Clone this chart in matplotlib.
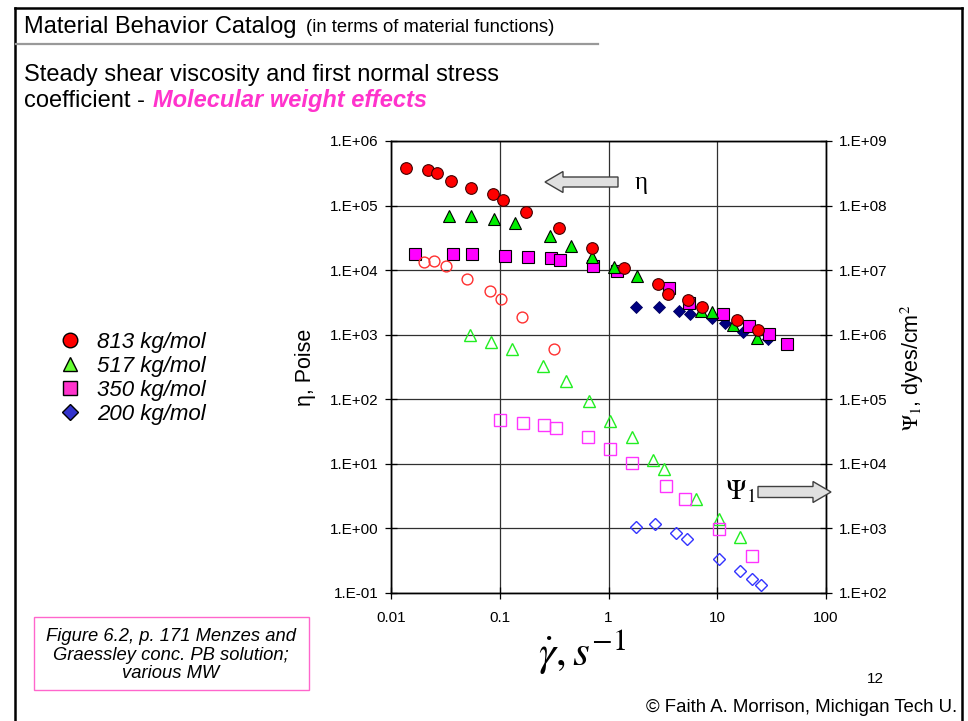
import numpy as np
import matplotlib.pyplot as plt
from matplotlib.lines import Line2D
from matplotlib.patches import Polygon, Rectangle
from matplotlib.ticker import FuncFormatter, NullLocator

plt.rcParams['font.family'] = ['Liberation Sans', 'DejaVu Sans']
plt.rcParams['mathtext.fontset'] = 'stix'

W, H = 968, 721

# ---- data ----
labels = ['813 kg/mol', '517 kg/mol', '350 kg/mol', '200 kg/mol']

# steady shear viscosity eta (Poise) vs shear rate (1/s) -- filled symbols
rate_eta_813 = [0.0137, 0.0218, 0.0267, 0.0354, 0.0544, 0.0873, 0.108, 0.174, 0.348,
                0.710, 1.40, 2.83, 3.55, 5.42, 7.19, 15.1, 23.5]
eta_813 = [3.86e5, 3.56e5, 3.16e5, 2.43e5, 1.85e5, 1.53e5, 1.23e5, 7.95e4, 4.50e4,
           2.23e4, 1.09e4, 6.04e3, 4.23e3, 3.45e3, 2.66e3, 1.67e3, 1.18e3]

rate_eta_517 = [0.0341, 0.0544, 0.0891, 0.138, 0.288, 0.449, 0.701, 1.13, 1.82,
                7.09, 8.89, 14.0, 23.1]
eta_517 = [6.90e4, 6.90e4, 6.13e4, 5.31e4, 3.38e4, 2.39e4, 1.62e4, 1.13e4, 8.03e3,
           2.33e3, 2.21e3, 1.41e3, 905]

rate_eta_350 = [0.0166, 0.0374, 0.0552, 0.112, 0.182, 0.294, 0.360, 0.716, 1.19,
                3.60, 5.53, 11.2, 19.4, 29.6, 44.1]
eta_350 = [1.76e4, 1.76e4, 1.76e4, 1.67e4, 1.62e4, 1.53e4, 1.42e4, 1.17e4, 9.63e3,
           5.23e3, 3.10e3, 2.07e3, 1.36e3, 1.03e3, 713]

rate_eta_200 = [1.80, 2.93, 4.45, 5.62, 8.89, 11.7, 17.4, 29.1]
eta_200 = [2.72e3, 2.72e3, 2.35e3, 2.07e3, 1.80e3, 1.50e3, 1.11e3, 858]

# first normal stress coefficient Psi1 (dyn s^2/cm^2) -- open symbols
rate_psi_813 = [0.0202, 0.0250, 0.0320, 0.0497, 0.0813, 0.102, 0.160, 0.317]
psi_813 = [1.36e7, 1.39e7, 1.16e7, 7.42e6, 4.80e6, 3.57e6, 1.90e6, 6.01e5]

rate_psi_517 = [0.0532, 0.0826, 0.129, 0.250, 0.404, 0.662, 1.04, 1.65, 2.59, 3.24,
                6.38, 10.3, 16.2]
psi_517 = [9.90e5, 7.79e5, 6.01e5, 3.31e5, 1.89e5, 9.57e4, 4.61e4, 2.60e4, 1.15e4,
           8.23e3, 2.82e3, 1.42e3, 729]

rate_psi_350 = [0.1005, 0.163, 0.257, 0.329, 0.644, 1.03, 1.63, 3.36, 5.05, 10.4, 20.9]
psi_350 = [4.78e4, 4.34e4, 4.00e4, 3.63e4, 2.63e4, 1.68e4, 1.03e4, 4.54e3, 2.82e3,
           969, 374]

rate_psi_200 = [1.78, 2.68, 4.15, 5.30, 10.4, 16.2, 20.7, 25.3]
psi_200 = [1.06e3, 1.16e3, 840, 678, 332, 221, 165, 133]

x_ticks = [0.01, 0.1, 1, 10, 100]
x_tick_labels = ['0.01', '0.1', '1', '10', '100']


def fx(x):
    return x / W


def fy(y):
    return 1 - y / H


fig = plt.figure(figsize=(W / 100, H / 100), dpi=100)

# slide border and header rule
fig.add_artist(Line2D([fx(15), fx(15)], [fy(8), fy(721)], color='black', lw=1.8))
fig.add_artist(Line2D([fx(15), fx(962)], [fy(8), fy(8)], color='black', lw=1.8))
fig.add_artist(Line2D([fx(962), fx(962)], [fy(8), fy(721)], color='black', lw=1.8))
fig.add_artist(Line2D([fx(16), fx(598)], [fy(44), fy(44)], color='#999999', lw=1.6))

fig.text(fx(24), fy(27), 'Material Behavior Catalog', fontsize=17, va='center')
fig.text(fx(306), fy(28), '(in terms of material functions)', fontsize=13.3, va='center')
fig.text(fx(24), fy(75), 'Steady shear viscosity and first normal stress', fontsize=17,
         va='center')
fig.text(fx(24), fy(101), 'coefficient - ', fontsize=17, va='center')
fig.text(fx(153), fy(101), 'Molecular weight effects', fontsize=17, va='center',
         color='#FF33CC', fontweight='bold', fontstyle='italic')

ax = fig.add_axes([fx(391), fy(593), (826 - 391) / W, (593 - 141) / H])
ax.set_xscale('log')
ax.set_yscale('log')
ax.set_xlim(0.01, 100)
ax.set_ylim(0.1, 1e6)
ax.set_axisbelow(True)
ax.grid(True, which='major', color='#303030', lw=0.9)

ax2 = ax.twinx()
ax2.set_yscale('log')
ax2.set_ylim(1e2, 1e9)

fmt = FuncFormatter(lambda v, p: f'1.E{int(round(np.log10(v))):+03d}')
ax.set_yticks(10.0 ** np.arange(-1, 7))
ax2.set_yticks(10.0 ** np.arange(2, 10))
ax.yaxis.set_major_formatter(fmt)
ax2.yaxis.set_major_formatter(fmt)
ax.set_xticks(x_ticks)
ax.set_xticklabels(x_tick_labels)
for a in (ax, ax2):
    a.xaxis.set_minor_locator(NullLocator())
    a.yaxis.set_minor_locator(NullLocator())
    for s in a.spines.values():
        s.set_color('black')
        s.set_linewidth(1.0)
ax.tick_params(axis='y', direction='inout', length=8, width=0.9, labelsize=11, pad=5)
ax.tick_params(axis='x', direction='inout', length=8, width=0.9, labelsize=11, pad=9)
ax2.tick_params(axis='y', direction='inout', length=8, width=0.9, labelsize=11, pad=5)

# filled symbols: viscosity
ax.plot(rate_eta_200, eta_200, 'D', ms=6.5, mfc='#000080', mec='#000060', mew=0.6,
        ls='none', zorder=3)
ax.plot(rate_eta_350, eta_350, 's', ms=8, mfc='#FF00FF', mec='black', mew=0.8,
        ls='none', zorder=4)
ax.plot(rate_eta_517, eta_517, '^', ms=8.5, mfc='#00EE00', mec='black', mew=0.8,
        ls='none', zorder=5)
ax.plot(rate_eta_813, eta_813, 'o', ms=8.4, mfc='#FF0000', mec='#400000', mew=0.8,
        ls='none', zorder=6)

# open symbols: Psi1 on the right axis
ax2.plot(rate_psi_813, psi_813, 'o', ms=7.8, mfc='none', mec='#FF3030', mew=1.0, ls='none')
ax2.plot(rate_psi_517, psi_517, '^', ms=8, mfc='none', mec='#22EE22', mew=1.0, ls='none')
ax2.plot(rate_psi_350, psi_350, 's', ms=9, mfc='none', mec='#FF33FF', mew=1.0, ls='none')
ax2.plot(rate_psi_200, psi_200, 'D', ms=6, mfc='none', mec='#3333FF', mew=1.0, ls='none')

# axis titles
fig.text(fx(305), fy(367), '\u03b7, Poise', fontsize=15.5, rotation=90, ha='center',
         va='center')
fig.text(fx(912), fy(368), r'$\Psi_1$, dyes/cm$^2$', fontsize=15.5, rotation=90,
         ha='center', va='center')
fig.text(fx(582), fy(652), r'$\dot{\gamma}, s^{-1}$', fontsize=31, ha='center',
         va='center')

# block arrows pointing to each axis
def block_arrow(x_tail, x_tip, yc, half_body, half_head, head_len):
    d = np.sign(x_tip - x_tail)
    xh = x_tip - d * head_len
    pts = [(x_tail, yc - half_body), (xh, yc - half_body), (xh, yc - half_head),
           (x_tip, yc), (xh, yc + half_head), (xh, yc + half_body), (x_tail, yc + half_body)]
    fig.add_artist(Polygon([(fx(x), fy(y)) for x, y in pts], closed=True,
                           facecolor='#E0E0E0', edgecolor='#404040', lw=1.0,
                           transform=fig.transFigure))


block_arrow(618, 545, 182, 5, 10.5, 18)
block_arrow(758, 831, 492, 5.5, 10.5, 18)
fig.text(fx(641), fy(183), '\u03b7', fontsize=18, family=['Liberation Serif', 'DejaVu Serif'],
         ha='center', va='center')
fig.text(fx(740), fy(492), r'$\Psi_1$', fontsize=20, ha='center', va='center')

# legend
handles = [
    Line2D([], [], marker='o', ls='none', ms=10.5, mfc='#FF0000', mec='black', mew=1.0),
    Line2D([], [], marker='^', ms=10.5, ls='none', mfc='#66FF33', mec='black', mew=1.0),
    Line2D([], [], marker='s', ms=10, ls='none', mfc='#FF33CC', mec='black', mew=1.0),
    Line2D([], [], marker='D', ms=8, ls='none', mfc='#3333CC', mec='black', mew=1.0),
]
fig.legend(handles, labels, loc='upper left', bbox_to_anchor=(fx(46), fy(321)),
           frameon=False, prop={'size': 16, 'style': 'italic'}, handlelength=1.2,
           handletextpad=0.6, labelspacing=0.13, borderpad=0)

# caption box
fig.add_artist(Rectangle((fx(34), fy(690)), (309 - 34) / W, (690 - 617) / H,
                         fill=False, edgecolor='#FF66CC', lw=1.0,
                         transform=fig.transFigure))
fig.text(fx(171), fy(655),
         'Figure 6.2, p. 171 Menzes and\nGraessley conc. PB solution;\nvarious MW',
         fontsize=13.2, style='italic', ha='center', va='center', linespacing=1.15)

fig.text(fx(875), fy(679), '12', fontsize=11, ha='center', va='center')
fig.text(fx(957), fy(707), '\u00a9 Faith A. Morrison, Michigan Tech U.', fontsize=13.4,
         ha='right', va='center')

fig.savefig('out.png', dpi=100)
